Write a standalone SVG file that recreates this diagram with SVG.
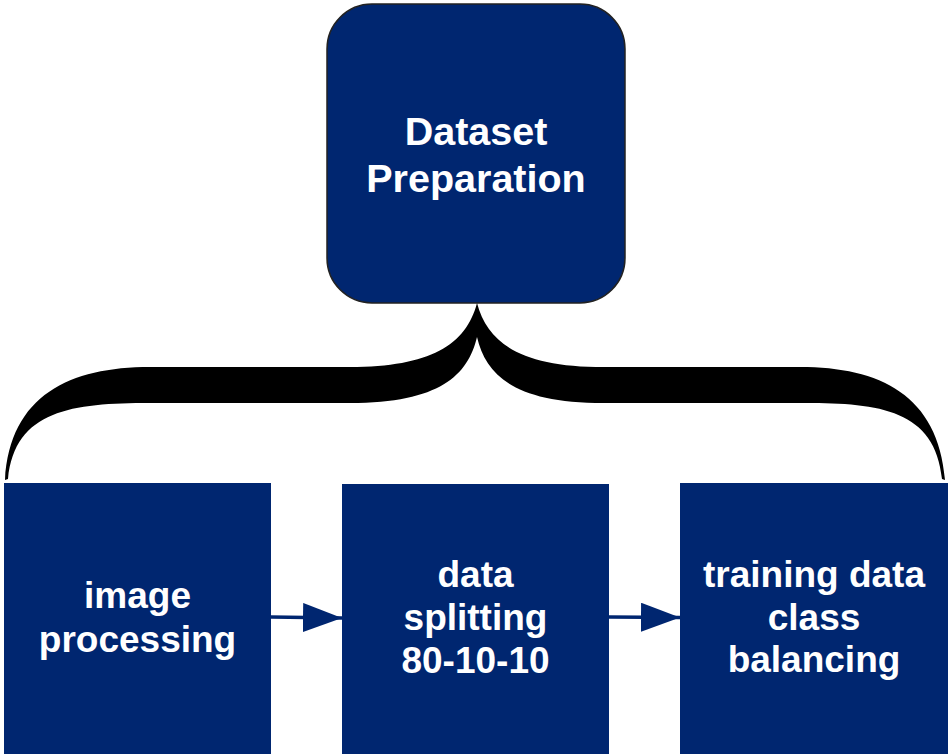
<svg xmlns="http://www.w3.org/2000/svg" width="949" height="754" viewBox="0 0 949 754">
  <style>
    .box { fill: #002670; }
    .root { stroke: #222222; stroke-width: 1.5; }
    .label { fill: #ffffff; font-family: "Liberation Sans", Arial, Helvetica, sans-serif; font-weight: bold; text-anchor: middle; }
    .big { font-size: 39.5px; }
    .small { font-size: 37px; }
    .flow { stroke: #002670; stroke-width: 3.5; fill: none; marker-end: url(#head); }
    .brace { fill: #000000; }
  </style>
  <defs>
    <marker id="head" markerUnits="userSpaceOnUse" markerWidth="39" markerHeight="29" refX="39" refY="14.5" orient="auto">
      <path d="M0,0 L39,14.5 L0,29 Z" fill="#002670"/>
    </marker>
  </defs>

  <!-- top node -->
  <g id="dataset-preparation">
    <rect class="box root" x="327" y="4" width="298" height="299" rx="45" ry="45"/>
    <text class="label big" x="476" y="145">Dataset</text>
    <text class="label big" x="476" y="192">Preparation</text>
  </g>

  <!-- connectors: curly brace and flow arrows -->
  <g id="connectors">
    <path class="brace" d="M477,303 C488,345 524,367 604,367 L800,367 C880,367 938,395 945,480 L942,479 C935,410 880,403 805,403 L604,403 C514,403 486,375 477,337 C468,375 440,403 350,403 L150,403 C72,403 15,410 8,479 L5,480 C10,395 70,367 150,367 L350,367 C430,367 466,345 477,303 Z"/>
    <path class="flow" d="M271,617 L342,618"/>
    <path class="flow" d="M609,617 L680,617.5"/>
  </g>

  <!-- bottom nodes -->
  <g id="image-processing">
    <rect class="box" x="4" y="483" width="267" height="275"/>
    <text class="label small" x="137.5" y="608">image</text>
    <text class="label small" x="137.5" y="652">processing</text>
  </g>

  <g id="data-splitting">
    <rect class="box" x="342" y="484" width="267" height="274"/>
    <text class="label small" x="475.5" y="587">data</text>
    <text class="label small" x="475.5" y="630">splitting</text>
    <text class="label small" x="475.5" y="673">80-10-10</text>
  </g>

  <g id="class-balancing">
    <rect class="box" x="680" y="483" width="268" height="275"/>
    <text class="label small" x="814" y="587">training data</text>
    <text class="label small" x="814" y="630">class</text>
    <text class="label small" x="814" y="672">balancing</text>
  </g>
</svg>
